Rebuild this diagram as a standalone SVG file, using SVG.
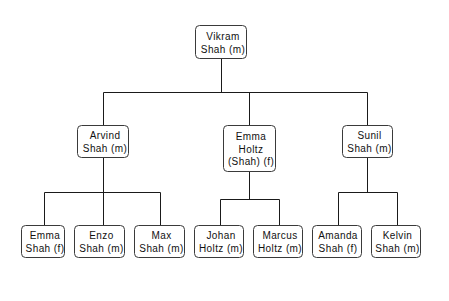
<svg xmlns="http://www.w3.org/2000/svg" width="449" height="301" viewBox="0 0 449 301">
  <style>
    .box { fill: #ffffff; stroke: #3a3a3a; stroke-width: 1; }
    .lbl { font-family: "Liberation Sans", Arial, sans-serif; font-size: 10px; letter-spacing: 0.4px; fill: #111111; text-anchor: middle; }
    .wire { fill: none; stroke: #1a1a1a; stroke-width: 1; }
  </style>
  <rect x="0" y="0" width="449" height="301" fill="#ffffff"/>

  <!-- family tree connectors -->
  <g id="connectors">
    <path class="wire" d="M221.5 58 V92.5"/>
    <path class="wire" d="M103.5 92.5 H367.5"/>
    <path class="wire" d="M103.5 92.5 V125"/>
    <path class="wire" d="M249.5 92.5 V125"/>
    <path class="wire" d="M367.5 92.5 V125"/>

    <path class="wire" d="M103.5 157 V192.5"/>
    <path class="wire" d="M44.5 192.5 H160.5"/>
    <path class="wire" d="M44.5 192.5 V225"/>
    <path class="wire" d="M103.5 192.5 V225"/>
    <path class="wire" d="M160.5 192.5 V225"/>

    <path class="wire" d="M249.5 171 V199.5"/>
    <path class="wire" d="M220.5 199.5 H279.5"/>
    <path class="wire" d="M220.5 199.5 V225"/>
    <path class="wire" d="M279.5 199.5 V225"/>

    <path class="wire" d="M367.5 157 V192.5"/>
    <path class="wire" d="M338.5 192.5 H397.5"/>
    <path class="wire" d="M338.5 192.5 V225"/>
    <path class="wire" d="M397.5 192.5 V225"/>
  </g>

  <!-- generation 1 -->
  <g id="vikram">
    <rect class="box" x="195.5" y="25.5" width="51" height="33" rx="4"/>
    <text class="lbl" x="223" y="40">Vikram</text>
    <text class="lbl" x="223" y="53">Shah (m)</text>
  </g>

  <!-- generation 2 -->
  <g id="arvind">
    <rect class="box" x="77.5" y="125.5" width="51" height="32" rx="4"/>
    <text class="lbl" x="105" y="139">Arvind</text>
    <text class="lbl" x="105" y="152">Shah (m)</text>
  </g>
  <g id="emma-holtz">
    <rect class="box" x="223.5" y="125.5" width="52" height="46" rx="4"/>
    <text class="lbl" x="251" y="140">Emma</text>
    <text class="lbl" x="251" y="152.5">Holtz</text>
    <text class="lbl" x="251" y="165">(Shah) (f)</text>
  </g>
  <g id="sunil">
    <rect class="box" x="342.5" y="125.5" width="50" height="32" rx="4"/>
    <text class="lbl" x="369.5" y="139">Sunil</text>
    <text class="lbl" x="369.5" y="152">Shah (m)</text>
  </g>

  <!-- generation 3 -->
  <g id="emma-shah">
    <rect class="box" x="21.5" y="225.5" width="43" height="32" rx="4"/>
    <text class="lbl" x="45" y="239">Emma</text>
    <text class="lbl" x="45" y="252">Shah (f)</text>
  </g>
  <g id="enzo">
    <rect class="box" x="74.5" y="225.5" width="50" height="32" rx="4"/>
    <text class="lbl" x="101.5" y="239">Enzo</text>
    <text class="lbl" x="101.5" y="252">Shah (m)</text>
  </g>
  <g id="max">
    <rect class="box" x="134.5" y="225.5" width="50" height="32" rx="4"/>
    <text class="lbl" x="161.5" y="239">Max</text>
    <text class="lbl" x="161.5" y="252">Shah (m)</text>
  </g>
  <g id="johan">
    <rect class="box" x="194.5" y="225.5" width="49" height="32" rx="4"/>
    <text class="lbl" x="221" y="239">Johan</text>
    <text class="lbl" x="221" y="252">Holtz (m)</text>
  </g>
  <g id="marcus">
    <rect class="box" x="253.5" y="225.5" width="49" height="32" rx="4"/>
    <text class="lbl" x="280" y="239">Marcus</text>
    <text class="lbl" x="280" y="252">Holtz (m)</text>
  </g>
  <g id="amanda">
    <rect class="box" x="312.5" y="225.5" width="49" height="32" rx="4"/>
    <text class="lbl" x="338" y="239">Amanda</text>
    <text class="lbl" x="338" y="252">Shah (f)</text>
  </g>
  <g id="kelvin">
    <rect class="box" x="371.5" y="225.5" width="49" height="32" rx="4"/>
    <text class="lbl" x="397.5" y="239">Kelvin</text>
    <text class="lbl" x="397.5" y="252">Shah (m)</text>
  </g>
</svg>
